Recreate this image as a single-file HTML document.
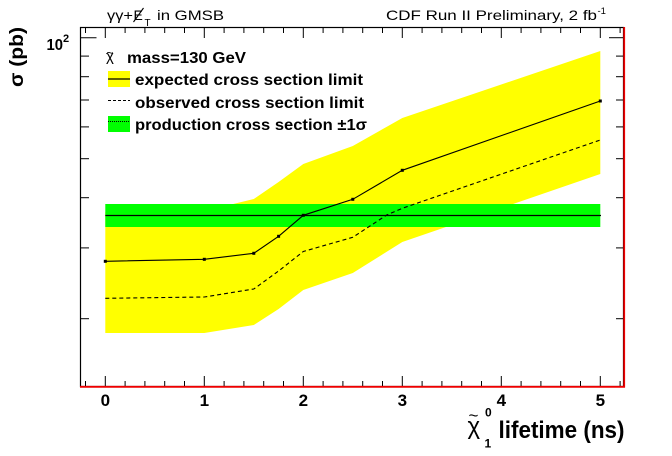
<!DOCTYPE html>
<html><head><meta charset="utf-8"><style>
html,body{margin:0;padding:0;background:#fff;}
svg{display:block;}
text{font-family:"Liberation Sans",Arial,sans-serif;fill:#000;}
.b{font-weight:bold;}
</style></head><body>
<svg width="672" height="456" viewBox="0 0 672 456" xmlns="http://www.w3.org/2000/svg">
<rect width="672" height="456" fill="#fff"/>
<!-- yellow band -->
<polygon fill="#ffff00" points="105.3,212 204.3,211 253.8,199 278.6,182 303.3,164 352.8,146 402.3,118 600.3,51 600.3,174 402.3,242 352.8,273 303.3,290 278.6,309 253.8,325 204.3,333 105.3,333"/>
<!-- green band -->
<rect x="105.3" y="204" width="495" height="23" fill="#00ff00"/>
<line x1="105.3" y1="215.5" x2="601" y2="215.5" stroke="#000" stroke-width="1.2"/>
<!-- observed -->
<polyline fill="none" stroke="#000" stroke-width="1.1" stroke-dasharray="4 3" points="105.3,298.3 204.3,297 253.8,289 278.6,271 303.3,251.5 352.8,237.3 386.7,215 402.3,208.3 600.3,140"/>
<!-- expected -->
<polyline fill="none" stroke="#000" stroke-width="1.1" points="105.3,261.3 204.3,259.3 253.8,253.3 278.6,236.3 303.3,215.3 352.8,199.3 402.3,170.3 600.3,101"/>
<g fill="#000">
<rect x="103.8" y="259.8" width="3" height="3"/>
<rect x="202.8" y="257.8" width="3" height="3"/>
<rect x="252.3" y="251.8" width="3" height="3"/>
<rect x="277.1" y="234.8" width="3" height="3"/>
<rect x="301.8" y="213.8" width="3" height="3"/>
<rect x="351.3" y="197.8" width="3" height="3"/>
<rect x="400.8" y="168.8" width="3" height="3"/>
<rect x="598.8" y="99.5" width="3" height="3"/>
</g>
<!-- frame -->
<rect x="80.5" y="27.5" width="543" height="359" fill="none" stroke="#000" stroke-width="1.2"/>
<g stroke="#000" stroke-width="1">
<!-- bottom ticks -->
<line x1="85.5" y1="386" x2="85.5" y2="381"/>
<line x1="105.3" y1="386" x2="105.3" y2="376"/>
<line x1="125.1" y1="386" x2="125.1" y2="381"/>
<line x1="144.9" y1="386" x2="144.9" y2="381"/>
<line x1="164.7" y1="386" x2="164.7" y2="381"/>
<line x1="184.5" y1="386" x2="184.5" y2="381"/>
<line x1="204.3" y1="386" x2="204.3" y2="376"/>
<line x1="224.1" y1="386" x2="224.1" y2="381"/>
<line x1="243.9" y1="386" x2="243.9" y2="381"/>
<line x1="263.7" y1="386" x2="263.7" y2="381"/>
<line x1="283.5" y1="386" x2="283.5" y2="381"/>
<line x1="303.3" y1="386" x2="303.3" y2="376"/>
<line x1="323.1" y1="386" x2="323.1" y2="381"/>
<line x1="342.9" y1="386" x2="342.9" y2="381"/>
<line x1="362.7" y1="386" x2="362.7" y2="381"/>
<line x1="382.5" y1="386" x2="382.5" y2="381"/>
<line x1="402.3" y1="386" x2="402.3" y2="376"/>
<line x1="422.1" y1="386" x2="422.1" y2="381"/>
<line x1="441.9" y1="386" x2="441.9" y2="381"/>
<line x1="461.7" y1="386" x2="461.7" y2="381"/>
<line x1="481.5" y1="386" x2="481.5" y2="381"/>
<line x1="501.3" y1="386" x2="501.3" y2="376"/>
<line x1="521.1" y1="386" x2="521.1" y2="381"/>
<line x1="540.9" y1="386" x2="540.9" y2="381"/>
<line x1="560.7" y1="386" x2="560.7" y2="381"/>
<line x1="580.5" y1="386" x2="580.5" y2="381"/>
<line x1="600.3" y1="386" x2="600.3" y2="376"/>
<line x1="620.1" y1="386" x2="620.1" y2="381"/>
<!-- top ticks -->
<line x1="85.5" y1="28" x2="85.5" y2="33"/>
<line x1="105.3" y1="28" x2="105.3" y2="38"/>
<line x1="125.1" y1="28" x2="125.1" y2="33"/>
<line x1="144.9" y1="28" x2="144.9" y2="33"/>
<line x1="164.7" y1="28" x2="164.7" y2="33"/>
<line x1="184.5" y1="28" x2="184.5" y2="33"/>
<line x1="204.3" y1="28" x2="204.3" y2="38"/>
<line x1="224.1" y1="28" x2="224.1" y2="33"/>
<line x1="243.9" y1="28" x2="243.9" y2="33"/>
<line x1="263.7" y1="28" x2="263.7" y2="33"/>
<line x1="283.5" y1="28" x2="283.5" y2="33"/>
<line x1="303.3" y1="28" x2="303.3" y2="38"/>
<line x1="323.1" y1="28" x2="323.1" y2="33"/>
<line x1="342.9" y1="28" x2="342.9" y2="33"/>
<line x1="362.7" y1="28" x2="362.7" y2="33"/>
<line x1="382.5" y1="28" x2="382.5" y2="33"/>
<line x1="402.3" y1="28" x2="402.3" y2="38"/>
<line x1="422.1" y1="28" x2="422.1" y2="33"/>
<line x1="441.9" y1="28" x2="441.9" y2="33"/>
<line x1="461.7" y1="28" x2="461.7" y2="33"/>
<line x1="481.5" y1="28" x2="481.5" y2="33"/>
<line x1="501.3" y1="28" x2="501.3" y2="38"/>
<line x1="521.1" y1="28" x2="521.1" y2="33"/>
<line x1="540.9" y1="28" x2="540.9" y2="33"/>
<line x1="560.7" y1="28" x2="560.7" y2="33"/>
<line x1="580.5" y1="28" x2="580.5" y2="33"/>
<line x1="600.3" y1="28" x2="600.3" y2="38"/>
<line x1="620.1" y1="28" x2="620.1" y2="33"/>
<!-- left ticks -->
<line x1="80" y1="37.7" x2="96.5" y2="37.7"/>
<line x1="80" y1="56.1" x2="89" y2="56.1"/>
<line x1="80" y1="76.7" x2="89" y2="76.7"/>
<line x1="80" y1="100" x2="89" y2="100"/>
<line x1="80" y1="126.9" x2="89" y2="126.9"/>
<line x1="80" y1="158.7" x2="89" y2="158.7"/>
<line x1="80" y1="197.7" x2="89" y2="197.7"/>
<line x1="80" y1="247.9" x2="89" y2="247.9"/>
<line x1="80" y1="318.7" x2="89" y2="318.7"/>
<!-- right ticks -->
<line x1="623" y1="37.7" x2="609" y2="37.7"/>
<line x1="623" y1="56.1" x2="616" y2="56.1"/>
<line x1="623" y1="76.7" x2="616" y2="76.7"/>
<line x1="623" y1="100" x2="616" y2="100"/>
<line x1="623" y1="126.9" x2="616" y2="126.9"/>
<line x1="623" y1="158.7" x2="616" y2="158.7"/>
<line x1="623" y1="197.7" x2="616" y2="197.7"/>
<line x1="623" y1="247.9" x2="616" y2="247.9"/>
<line x1="623" y1="318.7" x2="616" y2="318.7"/>
</g>
<!-- red axes -->
<line x1="80" y1="386.8" x2="625" y2="386.8" stroke="#ee0000" stroke-width="1.8"/>
<line x1="624.2" y1="27" x2="624.2" y2="387.5" stroke="#ee0000" stroke-width="1.8"/>
<!-- x tick labels -->
<g class="b" font-size="17" text-anchor="middle">
<text x="105.3" y="406">0</text>
<text x="204.3" y="406">1</text>
<text x="303.3" y="406">2</text>
<text x="402.3" y="406">3</text>
<text x="501.3" y="406">4</text>
<text x="600.3" y="406">5</text>
</g>
<!-- y tick label -->
<text class="b" x="46.5" y="50" font-size="16" textLength="16.5" lengthAdjust="spacingAndGlyphs">10</text>
<text class="b" x="63" y="42" font-size="11">2</text>
<!-- y title -->
<text class="b" font-size="19" transform="translate(23,87) rotate(-90)" textLength="60" lengthAdjust="spacingAndGlyphs">σ (pb)</text>
<!-- x title -->
<text x="467.5" y="434" font-size="24">χ</text>
<text x="468.5" y="421" font-size="17">~</text>
<text class="b" x="484.5" y="447.5" font-size="12">1</text>
<text class="b" x="485" y="416.5" font-size="12">0</text>
<text class="b" x="498.5" y="438" font-size="24" textLength="126" lengthAdjust="spacingAndGlyphs">lifetime (ns)</text>
<!-- top labels -->
<text x="107" y="20" font-size="14" textLength="26" lengthAdjust="spacingAndGlyphs">γγ+</text>
<text x="133.5" y="20" font-size="14">E</text>
<line x1="133.5" y1="22" x2="143.5" y2="8" stroke="#000" stroke-width="1.1"/>
<text x="144.5" y="26" font-size="10">T</text>
<text x="157" y="20" font-size="14" textLength="67" lengthAdjust="spacingAndGlyphs">in GMSB</text>
<text x="386" y="20" font-size="14" textLength="211" lengthAdjust="spacingAndGlyphs">CDF Run II Preliminary, 2 fb</text>
<text x="597.5" y="14" font-size="9" textLength="8.5" lengthAdjust="spacingAndGlyphs">-1</text>
<!-- legend -->
<text x="106" y="61" font-size="15">χ</text>
<text x="106.5" y="57" font-size="12">~</text>
<text class="b" x="127" y="63" font-size="16" textLength="119" lengthAdjust="spacingAndGlyphs">mass=130 GeV</text>
<rect x="108" y="71" width="22" height="16" fill="#ffff00"/>
<line x1="108" y1="79" x2="130" y2="79" stroke="#000" stroke-width="1.2"/>
<text class="b" x="135" y="85" font-size="16" textLength="228" lengthAdjust="spacingAndGlyphs">expected cross section limit</text>
<line x1="108" y1="100.5" x2="130" y2="100.5" stroke="#000" stroke-width="1" stroke-dasharray="3 2"/>
<text class="b" x="135" y="108" font-size="16" textLength="229" lengthAdjust="spacingAndGlyphs">observed cross section limit</text>
<rect x="108" y="116" width="22" height="16" fill="#00ff00"/>
<line x1="108" y1="121.5" x2="130" y2="121.5" stroke="#000" stroke-width="1" stroke-dasharray="1 1"/>
<text class="b" x="135" y="130" font-size="16" textLength="232" lengthAdjust="spacingAndGlyphs">production cross section ±1σ</text>
</svg>
</body></html>
